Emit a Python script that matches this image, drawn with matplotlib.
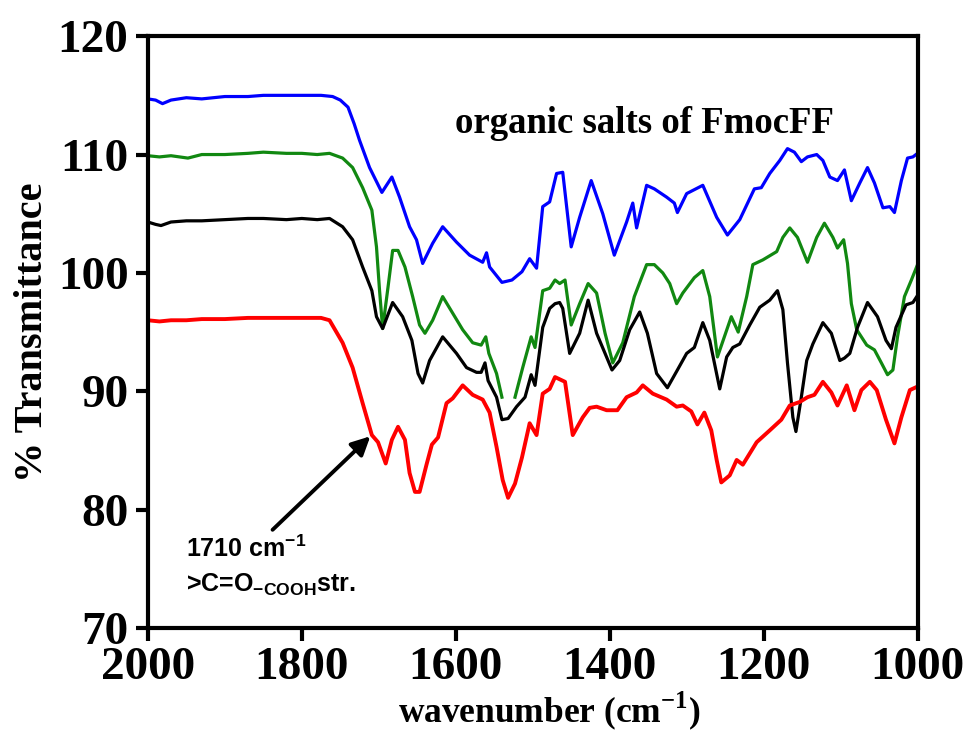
#!/usr/bin/env python
import numpy as np
import matplotlib as mpl
mpl.use('Agg')
import matplotlib.pyplot as plt

nan = np.nan

# wavenumber / %T pairs
blue_x = [2000, 1990, 1981, 1970, 1950, 1930, 1900, 1870, 1850, 1820, 1800, 1775, 1760, 1750,
          1740, 1732, 1725, 1712, 1696, 1683, 1673, 1660, 1651, 1643, 1630, 1617, 1599, 1582,
          1565, 1560, 1556, 1540, 1527, 1514, 1504, 1495, 1487, 1478, 1469, 1461, 1450, 1439,
          1424, 1409, 1394, 1378, 1370, 1365, 1352, 1342, 1326, 1316, 1312, 1300, 1279, 1261,
          1247, 1231, 1212, 1203, 1192, 1179, 1169, 1160, 1151, 1143, 1131, 1123, 1114, 1104,
          1095, 1086, 1075, 1065, 1056, 1045, 1036, 1030, 1021, 1013, 1006, 1000]
blue_y = [114.7, 114.6, 114.3, 114.6, 114.8, 114.7, 114.9, 114.9, 115.0, 115.0, 115.0, 115.0, 114.9, 114.6,
          114.0, 112.6, 111.2, 108.9, 106.8, 108.1, 106.4, 103.9, 102.8, 100.8, 102.5, 103.9, 102.6, 101.5,
          100.9, 101.7, 100.5, 99.2, 99.4, 100.1, 101.2, 100.4, 105.6, 106.0, 108.4, 108.5, 102.2, 104.7,
          107.8, 105.0, 101.5, 104.3, 105.9, 103.8, 107.4, 107.1, 106.4, 105.9, 105.1, 106.7, 107.4, 104.7,
          103.2, 104.5, 107.1, 107.2, 108.4, 109.5, 110.5, 110.2, 109.4, 109.8, 110.0, 109.5, 108.1, 107.8,
          108.7, 106.1, 107.6, 108.9, 107.6, 105.5, 105.6, 105.1, 107.8, 109.7, 109.8, 110.1]

green_x = [2000, 1985, 1970, 1948, 1930, 1900, 1870, 1850, 1820, 1800, 1780, 1764, 1747, 1734,
           1721, 1709, 1703, 1699, 1695, 1688, 1682, 1675, 1666, 1656, 1647, 1640, 1630, 1617,
           1604, 1591, 1578, 1567, 1561, 1557, 1547, 1540, 1532, 1523, 1513, 1502, 1497, 1487,
           1478, 1471, 1465, 1458, 1450, 1439, 1428, 1417, 1406, 1396, 1383, 1368, 1352, 1342,
           1331, 1322, 1313, 1305, 1290, 1279, 1270, 1260, 1251, 1242, 1233, 1222, 1214, 1201,
           1183, 1175, 1166, 1156, 1143, 1131, 1121, 1110, 1104, 1096, 1091, 1086, 1079, 1066,
           1056, 1047, 1039, 1032, 1026, 1017, 1008, 1000]
green_y = [109.9, 109.8, 109.9, 109.7, 110.0, 110.0, 110.1, 110.2, 110.1, 110.1, 110.0, 110.1, 109.7, 108.9,
           107.2, 105.3, 102.2, 98.5, 95.3, 98.8, 101.9, 101.9, 100.5, 98.0, 95.6, 94.9, 96.0, 98.0,
           96.6, 95.2, 94.1, 93.9, 94.6, 93.2, 91.5, 89.5, nan, 89.5, 92.0, 94.6, 93.7, 98.5,
           98.7, 99.4, 99.1, 99.4, 95.6, 97.4, 99.1, 98.3, 94.9, 92.4, 94.1, 98.0, 100.7, 100.7,
           100.0, 99.1, 97.4, 98.3, 99.6, 100.2, 98.0, 92.9, 94.6, 96.3, 95.0, 98.0, 100.7, 101.1,
           101.8, 103.0, 103.8, 103.0, 100.9, 103.0, 104.2, 103.0, 102.1, 102.8, 100.8, 97.4, 95.2, 93.9,
           93.5, 92.4, 91.4, 91.8, 94.6, 98.0, 99.4, 100.7]

black_x = [2000, 1990, 1983, 1970, 1950, 1930, 1900, 1870, 1850, 1820, 1800, 1780, 1764, 1747,
           1734, 1721, 1709, 1703, 1695, 1682, 1669, 1657, 1649, 1643, 1634, 1617, 1599, 1586,
           1573, 1567, 1562, 1558, 1547, 1540, 1532, 1521, 1510, 1502, 1497, 1487, 1478, 1471,
           1465, 1461, 1452, 1439, 1428, 1417, 1406, 1397, 1387, 1374, 1361, 1351, 1339, 1325,
           1312, 1300, 1290, 1279, 1270, 1257, 1248, 1240, 1231, 1218, 1205, 1192, 1182, 1175,
           1169, 1162, 1158, 1151, 1144, 1136, 1123, 1112, 1101, 1095, 1088, 1078, 1065, 1052,
           1041, 1034, 1028, 1015, 1006, 1000]
black_y = [104.3, 104.1, 104.0, 104.3, 104.4, 104.4, 104.5, 104.6, 104.6, 104.5, 104.6, 104.5, 104.6, 103.9,
           102.8, 100.5, 98.5, 96.3, 95.3, 97.5, 96.3, 94.3, 91.5, 90.7, 92.6, 94.6, 93.2, 92.0,
           91.6, 91.6, 92.4, 90.9, 89.5, 87.6, 87.7, 88.7, 89.5, 91.4, 90.5, 95.4, 97.0, 97.4,
           97.5, 97.0, 93.2, 94.9, 97.7, 94.9, 93.2, 91.8, 92.6, 95.2, 96.7, 94.9, 91.5, 90.3,
           91.8, 93.2, 93.7, 95.8, 94.3, 90.2, 92.9, 93.7, 94.0, 95.6, 97.1, 97.7, 98.5, 96.9,
           92.4, 87.8, 86.6, 89.5, 92.6, 94.0, 95.8, 94.9, 92.6, 92.8, 93.2, 95.4, 97.5, 96.3,
           94.3, 93.6, 95.4, 97.3, 97.5, 98.1]

red_x = [2000, 1985, 1970, 1950, 1930, 1900, 1870, 1850, 1820, 1790, 1775, 1764, 1747, 1734,
         1721, 1709, 1701, 1691, 1683, 1675, 1666, 1660, 1653, 1647, 1638, 1631, 1623, 1612,
         1604, 1591, 1578, 1565, 1556, 1547, 1539, 1532, 1523, 1514, 1504, 1495, 1487, 1478,
         1471, 1458, 1448, 1435, 1426, 1417, 1404, 1390, 1378, 1365, 1357, 1344, 1326, 1313,
         1305, 1294, 1286, 1277, 1268, 1261, 1255, 1244, 1235, 1227, 1209, 1192, 1177, 1166,
         1153, 1143, 1134, 1123, 1112, 1104, 1092, 1082, 1073, 1062, 1053, 1041, 1030, 1021,
         1010, 1000]
red_y = [96.0, 95.9, 96.0, 96.0, 96.1, 96.1, 96.2, 96.2, 96.2, 96.2, 96.2, 96.0, 94.1, 92.0,
         89.0, 86.3, 85.7, 83.9, 85.9, 87.0, 85.9, 83.1, 81.5, 81.5, 83.8, 85.5, 86.1, 89.0,
         89.4, 90.5, 89.7, 89.3, 88.2, 85.3, 82.5, 81.0, 82.2, 84.4, 87.3, 86.3, 89.8, 90.2,
         91.2, 90.8, 86.3, 87.8, 88.6, 88.7, 88.4, 88.4, 89.5, 89.9, 90.5, 89.8, 89.3, 88.7,
         88.8, 88.3, 87.2, 88.2, 86.7, 84.2, 82.3, 82.9, 84.2, 83.8, 85.7, 86.7, 87.6, 88.8,
         89.1, 89.5, 89.7, 90.8, 89.9, 88.8, 90.5, 88.4, 90.1, 90.8, 90.1, 87.6, 85.6, 87.8,
         90.1, 90.4]

x_ticks = [2000, 1800, 1600, 1400, 1200, 1000]
y_ticks = [70, 80, 90, 100, 110, 120]

plt.rcParams['mathtext.fontset'] = 'custom'
plt.rcParams['mathtext.rm'] = 'Liberation Serif:bold'
plt.rcParams['mathtext.bf'] = 'Liberation Serif:bold'
plt.rcParams['mathtext.sf'] = 'Liberation Sans:bold'

fig = plt.figure(figsize=(9.73, 7.38), dpi=100)
graph = fig.add_axes([0.152, 0.149, 0.791, 0.802])

graph.plot(blue_x, blue_y, color='#0000ff', lw=2.3, solid_joinstyle='round')
graph.plot(green_x, green_y, color='#118811', lw=2.3, solid_joinstyle='round')
graph.plot(black_x, black_y, color='black', lw=2.3, solid_joinstyle='round')
graph.plot(red_x, red_y, color='#ff0000', lw=2.8, solid_joinstyle='round')

graph.set_xlim(2000, 1000)
graph.set_ylim(70, 120)
graph.set_xticks(x_ticks)
graph.set_yticks(y_ticks)

for s in graph.spines.values():
  s.set_linewidth(3)
graph.tick_params(direction='out', length=9, width=3, labelsize=34, pad=5)
for lab in graph.get_xticklabels() + graph.get_yticklabels():
  lab.set_fontfamily('Liberation Serif')
  lab.set_fontweight('bold')

graph.set_xlabel(r'wavenumber (cm$^{-1}$)', family='Liberation Serif',
                 weight='bold', fontsize=25.5)
graph.xaxis.set_label_coords(0.522, -0.104)
graph.set_ylabel('% Transmittance', family='Liberation Serif',
                 weight='bold', fontsize=29, labelpad=5)

graph.text(1355, 112.65, 'organic salts of FmocFF', family='Liberation Serif',
           weight='bold', fontsize=26.5, ha='center', va='center')

graph.annotate('', xy=(1711, 86.2), xytext=(1838, 78.3),
               arrowprops=dict(arrowstyle='-|>', color='black', lw=2.8,
                               mutation_scale=28, shrinkA=0, shrinkB=0))
graph.text(1951, 76.0, r'1710 cm$^{\mathsf{-1}}$', family='Liberation Sans',
           weight='bold', fontsize=18, ha='left', va='baseline')
graph.text(1951, 73.05, r'>C=O$_{\mathsf{-COOH}}$str.', family='Liberation Sans',
           weight='bold', fontsize=18, ha='left', va='baseline')

plt.savefig('out.png', format='png', dpi=100)
